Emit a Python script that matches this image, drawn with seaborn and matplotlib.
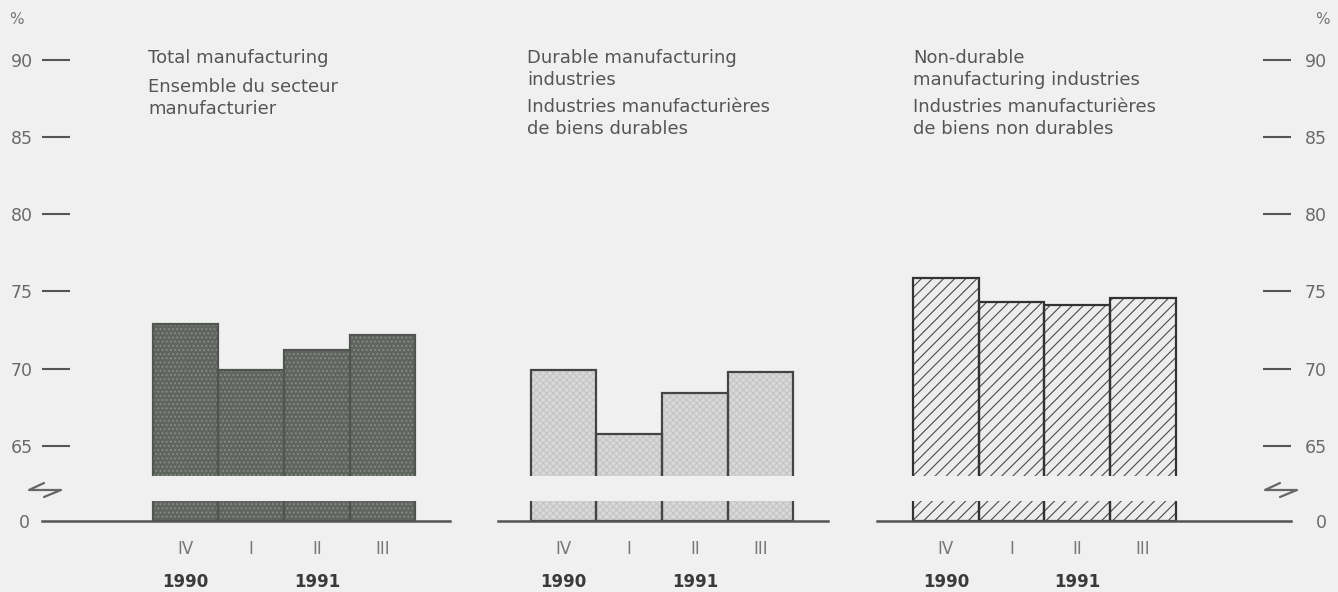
import matplotlib
matplotlib.use('Agg')
import matplotlib.pyplot as plt
from matplotlib.lines import Line2D
import seaborn as sns

# data (capacity utilization, %)
quarters = ['IV', 'I', 'II', 'III']
year_labels = {'IV': '1990', 'II': '1991'}
total = [72.9, 69.9, 71.2, 72.2]
durable = [69.9, 65.8, 68.4, 69.8]
nondurable = [75.9, 74.3, 74.1, 74.6]
yticks = [65, 70, 75, 80, 85, 90]

title_total = (['Total manufacturing'],
               ['Ensemble du secteur', 'manufacturier'])
title_durable = (['Durable manufacturing', 'industries'],
                 ['Industries manufacturières', 'de biens durables'])
title_nondurable = (['Non-durable', 'manufacturing industries'],
                    ['Industries manufacturières', 'de biens non durables'])

sns.set_theme(style='white')
plt.rcParams['font.family'] = ['DejaVu Sans']
plt.rcParams['hatch.linewidth'] = 0.8

W, H = 1338, 592
BG = '#f0f0f0'
fig = plt.figure(figsize=(W / 100, H / 100), dpi=100, facecolor=BG)


def fx(px):
    return px / W


def fy(py):
    return 1 - py / H


# pixel layout of the broken axis
top_px, brk_px, low_px, base_px = 40, 476, 501, 521
px_per_unit = 15.44
top_lim = (63.05, 63.05 + (brk_px - top_px) / px_per_unit)
low_lim = (0, (base_px - low_px) / px_per_unit)

panels = [
    dict(vals=total, left=42, right=450, xlim=(-2.19, 4.03), title=title_total, tx=148,
         face='#60655f', hatch='....', hcol='#8a8e88', edge='#50554f', side='left',
         en_y=[63], fr_y=[92, 114]),
    dict(vals=durable, left=498, right=828, xlim=(-1.0, 4.03), title=title_durable, tx=527,
         face='#d9d9d9', hatch='xxxxx', hcol='#c4c4c4', edge='#444444', side=None,
         en_y=[63, 85], fr_y=[112, 134]),
    dict(vals=nondurable, left=877, right=1291, xlim=(-1.05, 5.26), title=title_nondurable, tx=913,
         face='#ededed', hatch='///', hcol='#4a4a4a', edge='#333333', side='right',
         en_y=[63, 85], fr_y=[112, 134]),
]

for p in panels:
    ax_top = fig.add_axes([fx(p['left']), fy(brk_px), fx(p['right'] - p['left']), (brk_px - top_px) / H])
    ax_low = fig.add_axes([fx(p['left']), fy(base_px), fx(p['right'] - p['left']), (base_px - low_px) / H])
    for ax in (ax_top, ax_low):
        ax.set_facecolor('none')
        sns.barplot(x=quarters, y=p['vals'], order=quarters, ax=ax, color=p['face'],
                    saturation=1, width=1.0, hatch=p['hatch'], edgecolor=p['hcol'], linewidth=0)
        sns.barplot(x=quarters, y=p['vals'], order=quarters, ax=ax, color=p['edge'],
                    saturation=1, width=1.0, fill=False, linewidth=1.6)
        ax.set_xlim(*p['xlim'])
        ax.set_xlabel('')
        ax.set_ylabel('')
        for s in ax.spines.values():
            s.set_visible(False)
    ax_top.set_ylim(*top_lim)
    ax_low.set_ylim(*low_lim)
    ax_top.set_xticks([])
    ax_low.spines['bottom'].set_visible(True)
    ax_low.spines['bottom'].set_color('#555555')
    ax_low.spines['bottom'].set_linewidth(1.8)
    ax_low.set_xticks(range(len(quarters)))
    ax_low.set_xticklabels(quarters)
    ax_low.tick_params(axis='x', length=0, pad=14, labelsize=12, labelcolor='#777777')

    for i, q in enumerate(quarters):
        if q in year_labels:
            ax_low.annotate(year_labels[q], xy=(i, 0), xycoords=('data', 'axes fraction'),
                            xytext=(0, -44), textcoords='offset points', ha='center', va='center',
                            fontsize=12, fontweight='bold', color='#3a3a3a')

    if p['side'] is None:
        ax_top.set_yticks([])
        ax_low.set_yticks([])
    else:
        ax_top.set_yticks(yticks)
        ax_top.set_yticklabels([str(t) for t in yticks])
        ax_low.set_yticks([0])
        ax_low.set_yticklabels(['0'])
        if p['side'] == 'right':
            for ax in (ax_top, ax_low):
                ax.yaxis.tick_right()
            ax_top.tick_params(axis='y', right=True, left=False, direction='in', length=20,
                               width=1.5, color='#555555', pad=26, labelsize=12.5, labelcolor='#6a6a6a')
            ax_low.tick_params(axis='y', length=0, pad=26, labelsize=12.5, labelcolor='#6a6a6a')
            plt.setp(ax_top.get_yticklabels(), ha='right')
            plt.setp(ax_low.get_yticklabels(), ha='right')
        else:
            ax_top.tick_params(axis='y', left=True, direction='in', length=20, width=1.5,
                               color='#555555', pad=6.5, labelsize=12.5, labelcolor='#6a6a6a')
            ax_low.tick_params(axis='y', length=0, pad=8.5, labelsize=12.5, labelcolor='#6a6a6a')

    en, fr = p['title']
    for line, y in zip(en + fr, p['en_y'] + p['fr_y']):
        fig.text(fx(p['tx']), fy(y), line, ha='left', va='baseline', fontsize=13, color='#555555')

# percent signs and axis-break marks
fig.text(fx(16), fy(20), '%', ha='center', va='center', fontsize=11, color='#777777')
fig.text(fx(1322), fy(20), '%', ha='center', va='center', fontsize=11, color='#777777')
for bx in (29, 1265):
    zig_x = [bx + 15, bx, bx + 32, bx + 15]
    zig_y = [483, 490, 490, 497]
    fig.add_artist(Line2D([fx(v) for v in zig_x], [fy(v) for v in zig_y],
                          transform=fig.transFigure, color='#666666', lw=1.6))

fig.savefig('out.png', dpi=100, facecolor=BG)
